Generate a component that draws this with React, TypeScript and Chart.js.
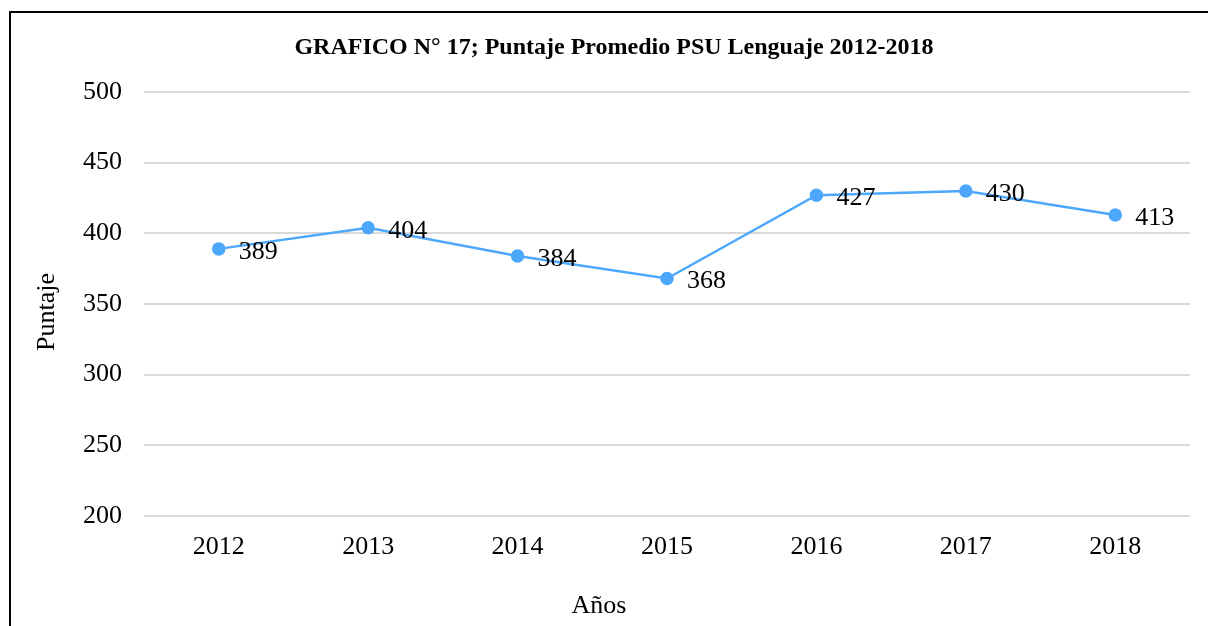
import React, { useEffect, useRef } from "react";
import { Chart, registerables } from "chart.js";

Chart.register(...registerables);

const years = ["2012", "2013", "2014", "2015", "2016", "2017", "2018"];
const scores = [389, 404, 384, 368, 427, 430, 413];
const yMin = 200;
const yMax = 500;
const yStep = 50;
const titleText = "GRAFICO N° 17; Puntaje Promedio PSU Lenguaje 2012-2018";
const xTitle = "Años";
const yTitle = "Puntaje";

const FONT = '"Liberation Serif", "Times New Roman", serif';
const LINE_COLOR = "#4DA8FC";
const TEXT_SIZE = 26;

const dataLabels = {
  id: "dataLabels",
  afterDatasetsDraw(chart: any) {
    const ctx = chart.ctx;
    const meta = chart.getDatasetMeta(0);
    const ds = chart.data.datasets[0];
    ctx.save();
    ctx.font = `${TEXT_SIZE}px ${FONT}`;
    ctx.fillStyle = "#000";
    ctx.textAlign = "left";
    ctx.textBaseline = "middle";
    meta.data.forEach((pt: any, i: number) => {
      ctx.fillText(String(ds.data[i]), pt.x + 20, pt.y + 3);
    });
    ctx.restore();
  },
};

const titles = {
  id: "titles",
  afterDraw(chart: any) {
    const ctx = chart.ctx;
    ctx.save();
    ctx.fillStyle = "#000";
    ctx.textAlign = "center";
    ctx.textBaseline = "middle";
    ctx.font = `bold 24px ${FONT}`;
    ctx.fillText(titleText, 614, 48);
    ctx.font = `${TEXT_SIZE}px ${FONT}`;
    ctx.fillText(xTitle, 599, 606);
    ctx.translate(47, 312);
    ctx.rotate(-Math.PI / 2);
    ctx.fillText(yTitle, 0, 0);
    ctx.restore();
  },
};

export default function App() {
  const ref = useRef<HTMLCanvasElement | null>(null);
  useEffect(() => {
    document.body.style.overflow = "hidden";
    const chart = new Chart(ref.current as HTMLCanvasElement, {
      type: "line",
      data: {
        labels: years,
        datasets: [
          {
            data: scores,
            borderColor: LINE_COLOR,
            backgroundColor: LINE_COLOR,
            pointBackgroundColor: LINE_COLOR,
            pointBorderColor: LINE_COLOR,
            borderWidth: 2.5,
            pointRadius: 5.5,
            tension: 0,
          },
        ],
      },
      options: {
        animation: false,
        responsive: false,
        maintainAspectRatio: false,
        layout: { padding: { left: 10, right: 18, top: 92, bottom: 0 } },
        plugins: {
          legend: { display: false },
          tooltip: { enabled: false },
          title: { display: false },
        },
        scales: {
          x: {
            offset: true,
            grid: { display: false, drawTicks: false },
            border: { display: false },
            ticks: { color: "#000", font: { family: FONT, size: TEXT_SIZE }, padding: 16 },
            afterFit(scale: any) {
              scale.height = 110;
            },
          },
          y: {
            min: yMin,
            max: yMax,
            ticks: { stepSize: yStep, color: "#000", font: { family: FONT, size: TEXT_SIZE }, padding: 22 },
            grid: { color: "#d9d9d9", lineWidth: 2, drawTicks: false },
            border: { display: false },
            afterFit(scale: any) {
              scale.width = 134;
            },
          },
        },
      },
      plugins: [dataLabels, titles],
    });
    return () => chart.destroy();
  }, []);
  return (
    <div style={{ position: "fixed", left: 0, top: 0, width: 1208, height: 626, overflow: "hidden", background: "#fff" }}>
      <canvas ref={ref} width={1208} height={626} style={{ position: "absolute", left: 0, top: 0 }} />
      <div
        style={{
          position: "absolute",
          left: 9,
          top: 11,
          width: 1400,
          height: 800,
          borderLeft: "2.5px solid #000",
          borderTop: "2px solid #000",
          pointerEvents: "none",
        }}
      />
    </div>
  );
}
